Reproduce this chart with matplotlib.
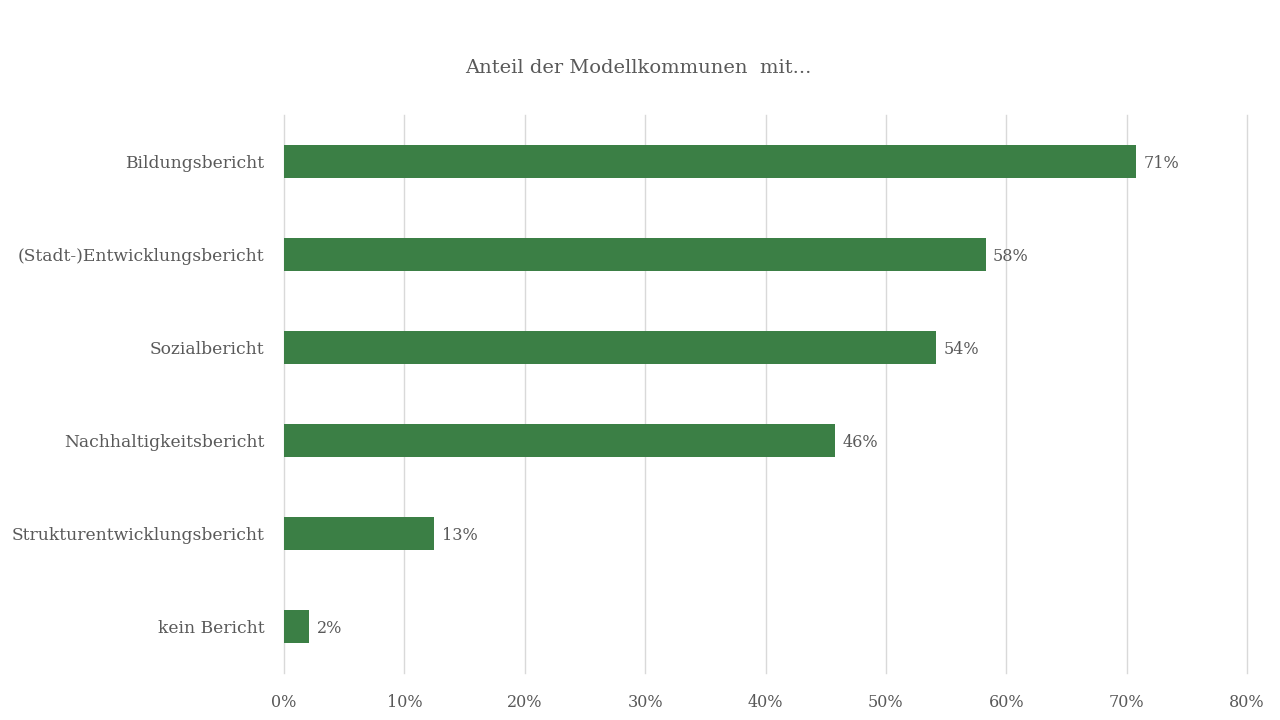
import matplotlib
matplotlib.use("Agg")
import matplotlib.pyplot as plt
from matplotlib.ticker import FuncFormatter

categories = ["Bildungsbericht", "(Stadt-)Entwicklungsbericht", "Sozialbericht",
              "Nachhaltigkeitsbericht", "Strukturentwicklungsbericht", "kein Bericht"]
values = [70.8, 58.3, 54.2, 45.8, 12.5, 2.1]
labels = ["71%", "58%", "54%", "46%", "13%", "2%"]
ticks = [0, 10, 20, 30, 40, 50, 60, 70, 80]

plt.rcParams['font.family'] = ['Roboto Slab', 'DejaVu Serif']
plt.rcParams['font.weight'] = 'light'
gray = "#595959"

fig = plt.figure(figsize=(12.8, 7.2), dpi=100)
ax = fig.add_axes([284/1280, 1 - 673/720, (1247-284)/1280, (673-115)/720])

y = list(range(len(categories)))
ax.barh(y, values, height=0.355, color="#3b7f45", zorder=3)
for yi, v, l in zip(y, values, labels):
    ax.text(v + 0.6, yi + 0.02, l, va="center", ha="left", fontsize=11.5, color=gray)

ax.set_ylim(len(categories) - 0.5, -0.5)
ax.set_yticks(y)
ax.set_yticklabels(categories, fontsize=12.3, color=gray)
ax.set_xlim(0, 80)
ax.set_xticks(ticks)
ax.xaxis.set_major_formatter(FuncFormatter(lambda x, p: f"{int(x)}%"))
ax.tick_params(axis='x', labelsize=11.5, labelcolor=gray, length=0, pad=15)
ax.tick_params(axis='y', length=0, pad=14)
ax.grid(axis='x', color="#d9d9d9", linewidth=1, zorder=0)
for gl in ax.get_xgridlines():
    gl.set_clip_on(False)
for s in ax.spines.values():
    s.set_visible(False)

fig.text(638/1280, 1 - 68/720, "Anteil der Modellkommunen  mit...", ha="center", va="center",
         fontsize=14, color=gray)

fig.savefig("out.png", dpi=100)
